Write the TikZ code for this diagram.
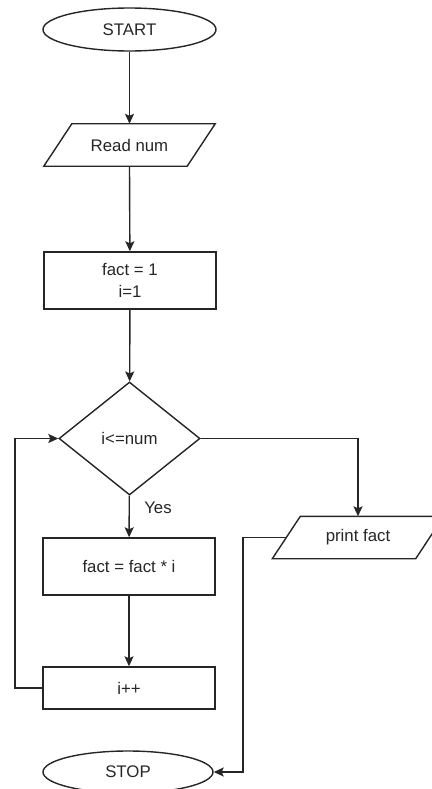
\documentclass[tikz,border=0pt]{standalone}
\usepackage{fontspec}
\setmainfont{Liberation Sans}
\usetikzlibrary{shapes.geometric,arrows.meta}
\begin{document}
\begin{tikzpicture}[x=1pt,y=-1pt,
  every node/.style={font=\fontsize{16.8}{22}\selectfont, text=black!85},
  line/.style={line width=1.4pt, draw=black!85},
  arr/.style={line, -{Stealth[length=10pt,width=9pt,inset=2pt]}},
  term/.style={ellipse, draw, line, minimum width=173pt, minimum height=43pt, inner sep=0pt},
  proc/.style={rectangle, draw, line, minimum width=172pt, minimum height=57pt, inner sep=0pt, align=center},
  io/.style={rectangle, minimum width=143pt, minimum height=42pt, inner sep=0pt},
  dec/.style={diamond, draw, line, minimum width=141pt, minimum height=113pt, inner sep=0pt},
  lbl/.style={font=\fontsize{16.8}{20}\selectfont}]
\useasboundingbox (0,0) rectangle (431,789);

\node[term] (start) at (129.5,29.5) {START};
\node[io] (read) at (129.5,145) {Read num};
\draw[line] ([xshift=14pt]read.north west) -- ([xshift=14pt]read.north east)
  -- ([xshift=-14pt]read.south east) -- ([xshift=-14pt]read.south west) -- cycle;
\node[proc] (init) at (130,280.5) {fact = 1\\i=1};
\node[dec] (dec) at (129.5,438.5) {i<=num};
\node[proc] (mult) at (129,566.5) {fact = fact * i};
\node[proc, minimum height=42pt] (inc) at (129,688) {i++};
\node[io] (print) at (358,537.5) {print fact};
\draw[line] ([xshift=14pt]print.north west) -- ([xshift=14pt]print.north east)
  -- ([xshift=-14pt]print.south east) -- ([xshift=-14pt]print.south west) -- cycle;
\node[term, minimum width=170pt, minimum height=42pt] (stop) at (128,772) {STOP};
\node[lbl] (yes) at (158,508) {Yes};

\coordinate (loopL) at (15,688);
\coordinate (outL) at (243,600);

\draw[arr] (start) -- (read.north);
\draw[arr] (read.south) -- (init);
\draw[arr] (init) -- (dec);
\draw[arr] (dec) -- (mult);
\draw[arr] (mult) -- (inc);
\draw[arr] (inc.west) -- (loopL) |- (dec.west);
\draw[arr] (dec.east) -| (print.north);
\draw[arr] (print.west) -- (print.west -| outL) |- (stop.east);
\end{tikzpicture}
\end{document}
